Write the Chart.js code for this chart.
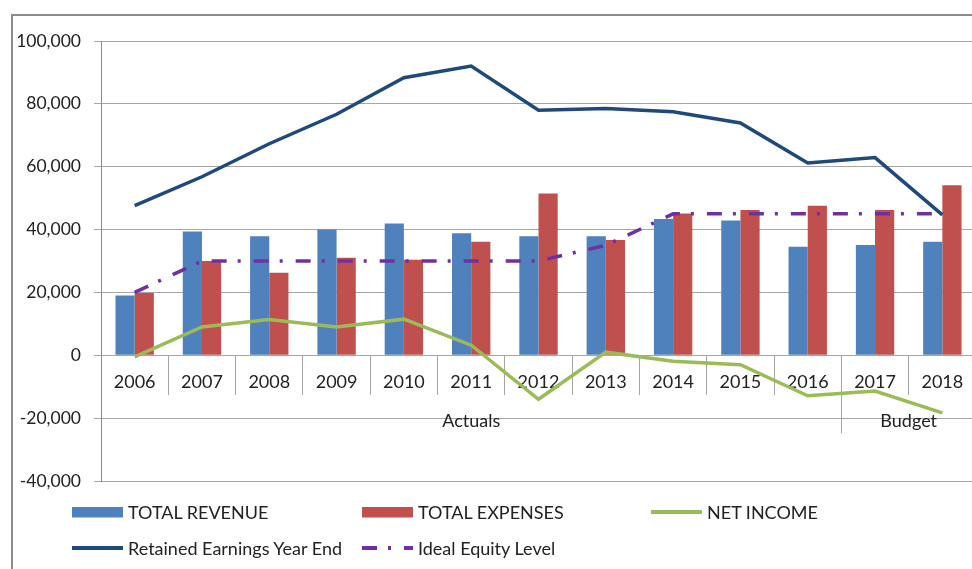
<!DOCTYPE html>
<html>
<head>
<meta charset="utf-8">
<script src="https://cdn.jsdelivr.net/npm/chart.js@4.4.1/dist/chart.umd.min.js"></script>
<style>
  html, body { margin: 0; padding: 0; background: #fff; overflow: hidden; }
  #wrap { position: relative; width: 972px; height: 569px; overflow: hidden; }
  #frame { position: absolute; left: 11px; top: 14px; width: 1000px; height: 600px;
           border-left: 2px solid #8c8c8c; border-top: 2px solid #8c8c8c; }
  #c { position: absolute; left: 0; top: 0; }
  .lg { position: absolute; height: 20px; display: flex; align-items: center; white-space: nowrap;
        font: 18px Lato, sans-serif; line-height: 20px; color: #222; }
  .lg svg { margin-right: 5px; }
</style>
</head>
<body>
<div id="wrap">
  <div id="frame"></div>
  <canvas id="c" width="980" height="569" style="width:980px;height:569px"></canvas>
  <div id="legend"></div>
</div>
<script>
// ── data ─────────────────────────────────────────
const years       = ['2006','2007','2008','2009','2010','2011','2012','2013','2014','2015','2016','2017','2018'];
const revenue     = [19000, 39400, 37900, 40000, 41900, 38800, 37900, 37900, 43400, 42900, 34500, 35100, 36100];
const expenses    = [19800, 30000, 26300, 31000, 30400, 36100, 51500, 36700, 45100, 46200, 47600, 46200, 54100];
const netIncome   = [-500, 9000, 11400, 9000, 11500, 3200, -14000, 1000, -1900, -3000, -12900, -11400, -18300];
const retained    = [47600, 56800, 67300, 76700, 88300, 92000, 78000, 78500, 77500, 73900, 61200, 62900, 44700];
const idealEquity = [20000, 30000, 30000, 30000, 30000, 30000, 30000, 35000, 45000, 45000, 45000, 45000, 45000];
const periodLabels = ['Actuals', 'Budget'];
const periodSpans  = [11, 2];
const yMin = -40000, yMax = 100000, yStep = 20000;

const FONT = 'Lato, sans-serif';
const TXT  = '#222';
const GRID = '#a6a6a6';

// second row of category labels + divider between periods
const periodPlugin = {
  id: 'periods',
  beforeDatasetsDraw(chart) {
    const { ctx, scales: { x, y } } = chart;
    const zeroY = y.getPixelForValue(0);
    let start = 0;
    ctx.save();
    ctx.font = '18px ' + FONT;
    ctx.fillStyle = TXT;
    ctx.textAlign = 'center';
    ctx.textBaseline = 'middle';
    ctx.strokeStyle = GRID;
    ctx.lineWidth = 1;
    periodLabels.forEach((lbl, i) => {
      const end = start + periodSpans[i];
      const x0 = x.getPixelForValue(start - 0.5);
      const x1 = x.getPixelForValue(end - 0.5);
      ctx.fillText(lbl, (x0 + x1) / 2, zeroY + 66);
      if (i < periodLabels.length - 1) {
        const px = Math.round(x1) + 0.5;
        ctx.beginPath();
        ctx.moveTo(px, zeroY);
        ctx.lineTo(px, zeroY + 78);
        ctx.stroke();
      }
      start = end;
    });
    ctx.restore();
  }
};

const chart = new Chart(document.getElementById('c'), {
  type: 'bar',
  data: {
    labels: years,
    datasets: [
      { type: 'bar', label: 'TOTAL REVENUE', data: revenue, backgroundColor: '#4F81BD', order: 1,
        categoryPercentage: 0.57, barPercentage: 1.0 },
      { type: 'bar', label: 'TOTAL EXPENSES', data: expenses, backgroundColor: '#C0504D', order: 1,
        categoryPercentage: 0.57, barPercentage: 1.0 },
      { type: 'line', label: 'NET INCOME', data: netIncome, borderColor: '#9BBB59', borderWidth: 3.5,
        pointRadius: 0, tension: 0, fill: false, order: 0 },
      { type: 'line', label: 'Retained Earnings Year End', data: retained, borderColor: '#1F497D', borderWidth: 3.5,
        pointRadius: 0, tension: 0, fill: false, order: 0 },
      { type: 'line', label: 'Ideal Equity Level', data: idealEquity, borderColor: '#7030A0', borderWidth: 3.5,
        borderDash: [15, 11, 3, 13], pointRadius: 0, tension: 0, fill: false, order: 0 }
    ]
  },
  options: {
    responsive: false,
    animation: false,
    devicePixelRatio: 1,
    layout: { padding: { top: 41, bottom: 88, left: 0, right: 4 } },
    plugins: { legend: { display: false }, tooltip: { enabled: false } },
    scales: {
      x: {
        position: { y: 0 },
        offset: true,
        grid: { offset: true, drawOnChartArea: false, tickLength: 39, color: GRID },
        border: { color: GRID },
        ticks: { padding: -23, color: TXT, font: { family: FONT, size: 18 }, maxRotation: 0, autoSkip: false }
      },
      y: {
        min: yMin, max: yMax,
        grid: { color: GRID, tickLength: 7 },
        border: { color: '#8c8c8c' },
        ticks: { stepSize: yStep, padding: 13, color: TXT, font: { family: FONT, size: 17.5 },
                 callback: v => v.toLocaleString('en-US') },
        afterFit(s) { s.width = 101; }
      }
    }
  },
  plugins: [periodPlugin]
});

// ── legend (two rows, fixed columns) ─────────────
const legendSlots = [[72, 512], [362, 512], [651, 512], [72, 548], [362, 548]];
const legendEl = document.getElementById('legend');
chart.data.datasets.forEach((ds, i) => {
  const [lx, ly] = legendSlots[i];
  let sw;
  if (ds.type === 'bar') {
    sw = `<svg width="51" height="14"><rect x="0" y="2" width="51" height="10.5" fill="${ds.backgroundColor}"/></svg>`;
  } else {
    const dash = ds.borderDash ? `stroke-dasharray="${ds.borderDash.join(' ')}"` : '';
    sw = `<svg width="51" height="14"><line x1="0" y1="7" x2="51" y2="7" stroke="${ds.borderColor}" stroke-width="4" ${dash}/></svg>`;
  }
  const d = document.createElement('div');
  d.className = 'lg';
  d.style.left = lx + 'px';
  d.style.top = (ly - 10) + 'px';
  d.innerHTML = sw + `<span>${ds.label}</span>`;
  legendEl.appendChild(d);
});
</script>
</body>
</html>
